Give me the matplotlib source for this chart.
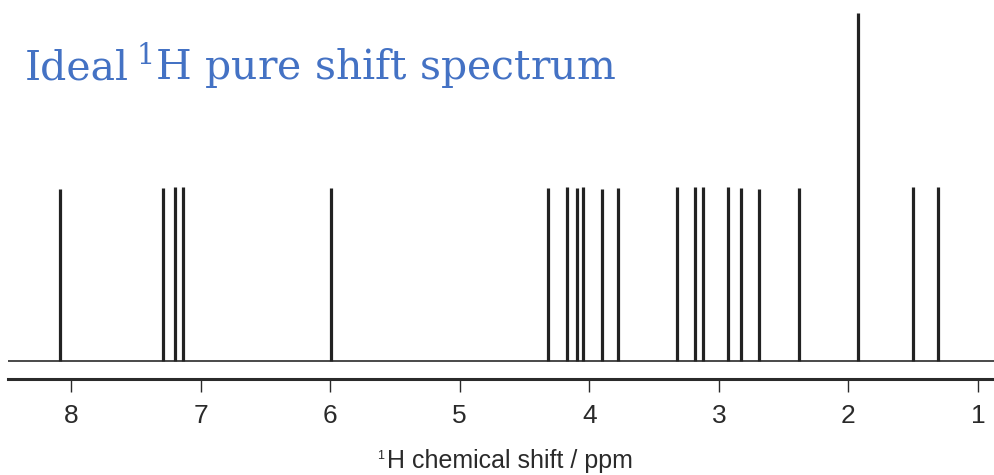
import matplotlib as mpl
mpl.use('Agg')
import matplotlib.pyplot as plt

# peak positions (ppm) and relative heights
shifts = [8.083, 7.288, 7.200, 7.136, 5.994,
          4.317, 4.175, 4.098, 4.047, 3.900, 3.782,
          3.326, 3.185, 3.121, 2.928, 2.830, 2.689, 2.383,
          1.930, 1.498, 1.308]
heights = [0.995, 1.00, 1.005, 1.005, 0.998,
           0.998, 1.006, 0.997, 1.006, 0.992, 0.998,
           1.006, 1.004, 1.006, 1.002, 1.000, 0.995, 1.000,
           2.008, 1.004, 1.004]
xticks = [8, 7, 6, 5, 4, 3, 2, 1]

mpl.rcParams['mathtext.fontset'] = 'custom'
mpl.rcParams['mathtext.rm'] = 'DejaVu Serif'

fig = plt.figure(figsize=(9.95, 4.75), dpi=100, facecolor='white')
ax = fig.add_axes([8/995, 1 - 379/475, 987/995, 369/475])

ax.axhline(0, color='#3a3a3a', linewidth=1.3, zorder=1)
ax.vlines(shifts, 0, heights, color='#222222', linewidth=2.3, zorder=2)

ax.set_xlim(8.486, 0.869)
ax.set_ylim(-0.106, 2.027)

for s in ['left', 'right', 'top']:
    ax.spines[s].set_visible(False)
ax.spines['bottom'].set_linewidth(2.2)
ax.spines['bottom'].set_color('#2a2a2a')
ax.set_yticks([])
ax.set_xticks(xticks)
ax.set_xticklabels([str(t) for t in xticks], fontfamily='Liberation Sans', fontsize=19, color='#2a2a2a')
ax.tick_params(axis='x', direction='out', length=9, width=1.0, color='#2a2a2a', pad=9)
ax.set_facecolor('white')

# x label: small superscript 1 drawn separately so it stays tiny
fig.text(510/995, 1 - 468/475, 'H chemical shift / ppm', ha='center', va='baseline',
         fontfamily='Liberation Sans', fontsize=18, color='#2a2a2a')
fig.text(377/995, 1 - 459/475, '1', ha='left', va='baseline',
         fontfamily='Liberation Sans', fontsize=9, color='#2a2a2a')

fig.text(25/995, 1 - 80/475, 'Ideal', ha='left', va='baseline',
         fontfamily='DejaVu Serif', fontsize=29.5, color='#4472c4')
fig.text(136/995, 1 - 80/475, '$^{1}$H pure shift spectrum', ha='left', va='baseline',
         fontfamily='DejaVu Serif', fontsize=29.5, color='#4472c4')

fig.savefig('out.png', dpi=100, facecolor='white')
